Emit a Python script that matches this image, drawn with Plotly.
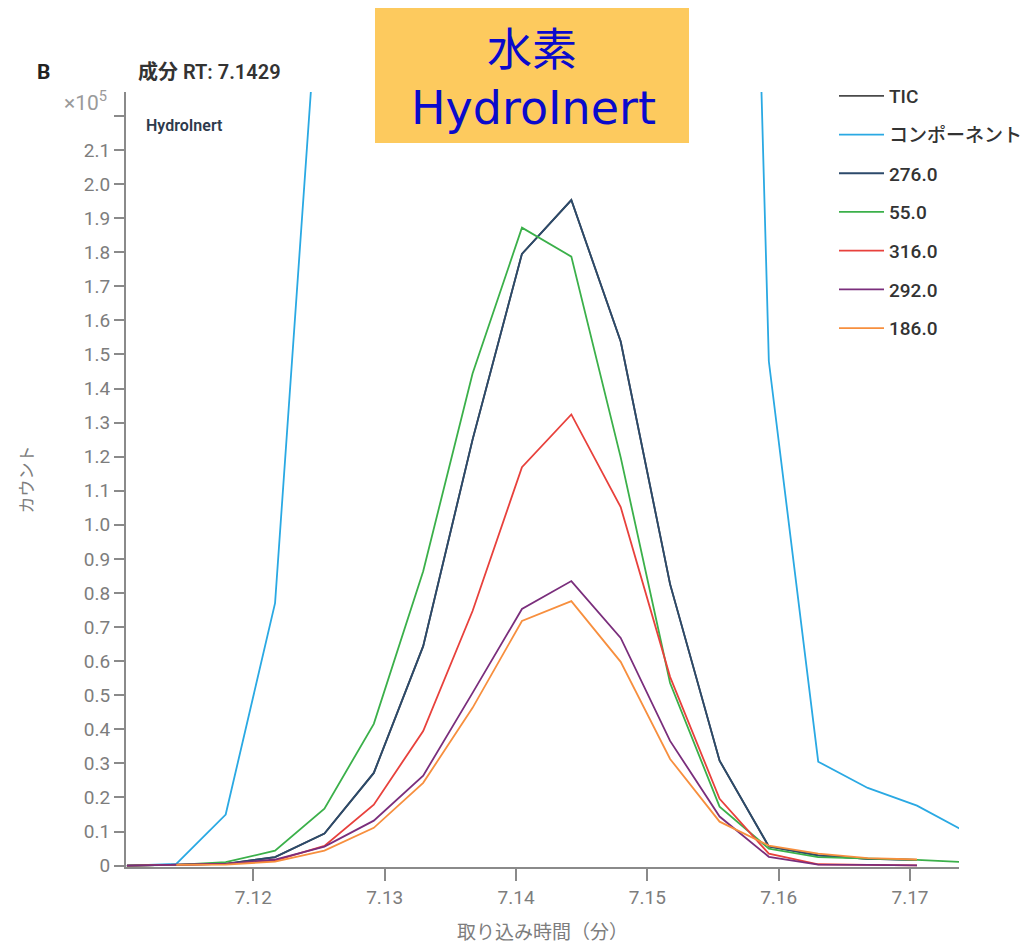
import plotly.graph_objects as go

# ---------------- data ----------------
times = [7.11037, 7.11413, 7.11789, 7.12165, 7.12541, 7.12917, 7.13293, 7.13669, 7.14045,
         7.14421, 7.14797, 7.15173, 7.15550, 7.15925, 7.16301, 7.16678, 7.17053, 7.17429]

tic      = [0, 0.002, 0.005, 0.025, 0.094, 0.272, 0.644, 1.25, 1.795, 1.953, 1.538, 0.826, 0.308, 0.056, 0.03, 0.02, 0.017, None]
component = [0, 0.005, 0.15, 0.77, 2.84, 4.6, 7.0, 9.2, 10.6, 11.0, 10.2, 8.6, 6.77, 1.48, 0.305, 0.228, 0.176, 0.098]
ion_276  = [0, 0.002, 0.005, 0.025, 0.094, 0.272, 0.644, 1.25, 1.795, 1.953, 1.538, 0.826, 0.308, 0.056, 0.03, 0.02, 0.017, None]
ion_55   = [0, 0.002, 0.010, 0.044, 0.167, 0.416, 0.864, 1.444, 1.872, 1.787, 1.198, 0.536, 0.173, 0.05, 0.025, 0.022, 0.017, 0.010]
ion_316  = [0, 0.002, 0.005, 0.015, 0.058, 0.179, 0.395, 0.747, 1.169, 1.324, 1.052, 0.554, 0.196, 0.035, 0.004, 0.002, 0.001, None]
ion_292  = [0, 0.002, 0.005, 0.018, 0.056, 0.132, 0.264, 0.507, 0.753, 0.835, 0.668, 0.366, 0.144, 0.026, 0.003, 0.002, 0.001, None]
ion_186  = [None, 0.002, 0.003, 0.012, 0.044, 0.111, 0.243, 0.463, 0.718, 0.776, 0.598, 0.313, 0.129, 0.059, 0.035, 0.022, 0.018, None]

series_names = ["TIC", "コンポーネント", "276.0", "55.0", "316.0", "292.0", "186.0"]
series_values = [tic, component, ion_276, ion_55, ion_316, ion_292, ion_186]
series_colors = ["#4a4a4a", "#2aa9e3", "#2c4a6b", "#3bb04a", "#e8413c", "#7a2e7c", "#f78f3e"]

y_tickvals = [round(0.1 * i, 1) for i in range(23)]
y_ticktext = ["0"] + [f"{v:.1f}" for v in y_tickvals[1:-1]] + [" "]
x_tickvals = [7.12, 7.13, 7.14, 7.15, 7.16, 7.17]
x_ticktext = ["7.12", "7.13", "7.14", "7.15", "7.16", "7.17"]

# ---------------- layout geometry ----------------
W, H = 1025, 944
L, R, T, B = 126, 959, 92, 867


def px(x):
    return (x - L) / (R - L)


def py(y):
    return (B - y) / (B - T)


FONT = "Roboto, 'Noto Sans CJK JP', sans-serif"
JP = "'Noto Sans CJK JP', Roboto, sans-serif"

fig = go.Figure()
for name, vals, col in zip(series_names, series_values, series_colors):
    fig.add_trace(go.Scatter(
        x=times, y=vals, mode="lines", name=name, legendgroup=name,
        line=dict(color=col, width=1.8), connectgaps=False,
    ))

axis_col = "#8a8a8a"
tick_font = dict(family=FONT, size=19, color="#7d7d7d")

fig.update_layout(
    width=W, height=H,
    margin=dict(l=L, r=W - R, t=T, b=H - B, pad=0, autoexpand=False),
    paper_bgcolor="white", plot_bgcolor="white",
    showlegend=True,
    legend=dict(
        x=px(834), y=py(77), xanchor="left", yanchor="top",
        font=dict(family=FONT, size=19, color="#333333", weight=500),
        bgcolor="rgba(0,0,0,0)", tracegroupgap=11, itemwidth=45,
    ),
    xaxis=dict(
        range=[7.1103, 7.17373], tickvals=x_tickvals, ticktext=x_ticktext,
        showgrid=False, zeroline=False, showline=True, linecolor=axis_col, linewidth=2,
        ticks="outside", ticklen=12, tickwidth=2, tickcolor=axis_col, tickfont=tick_font,
        automargin=False,
        title=dict(text="取り込み時間（分）", font=dict(family=JP, size=19, color="#7d7d7d"), standoff=18),
    ),
    yaxis=dict(
        range=[-0.004, 2.27], tickvals=y_tickvals, ticktext=y_ticktext,
        showgrid=False, zeroline=False, showline=True, linecolor=axis_col, linewidth=2,
        ticks="outside", ticklen=10, tickwidth=2, tickcolor=axis_col, tickfont=tick_font,
        automargin=False,
        title=dict(text="カウント", font=dict(family=JP, size=17, color="#7d7d7d"), standoff=46),
    ),
    shapes=[dict(type="rect", xref="paper", yref="paper",
                 x0=px(375), x1=px(689), y0=py(143), y1=py(8),
                 fillcolor="#fdca5e", line=dict(width=0), layer="above")],
    annotations=[
        dict(text="水素", x=px(532), y=py(47), xref="paper", yref="paper",
             xanchor="center", yanchor="middle", showarrow=False,
             font=dict(family=JP, size=45, color="#0a0acc")),
        dict(text="HydroInert", x=px(533), y=py(108), xref="paper", yref="paper",
             xanchor="center", yanchor="middle", showarrow=False,
             font=dict(family="'DejaVu Sans', sans-serif", size=46, color="#0a0acc")),
        dict(text="B", x=px(35), y=py(72), xref="paper", yref="paper",
             xanchor="left", yanchor="middle", showarrow=False,
             font=dict(family=FONT, size=21, color="#222222", weight="bold")),
        dict(text="成分 RT: 7.1429", x=px(136), y=py(72), xref="paper", yref="paper",
             xanchor="left", yanchor="middle", showarrow=False,
             font=dict(family=FONT, size=20, color="#333333", weight=600)),
        dict(text="×10<sup>5</sup>", x=px(109), y=py(101), xref="paper", yref="paper",
             xanchor="right", yanchor="middle", showarrow=False,
             font=dict(family=FONT, size=21, color="#9a9a9a")),
        dict(text="HydroInert", x=px(144), y=py(126), xref="paper", yref="paper",
             xanchor="left", yanchor="middle", showarrow=False,
             font=dict(family=FONT, size=16, color="#2e3a4c", weight=600)),
    ],
)

fig.write_html("out.html")
